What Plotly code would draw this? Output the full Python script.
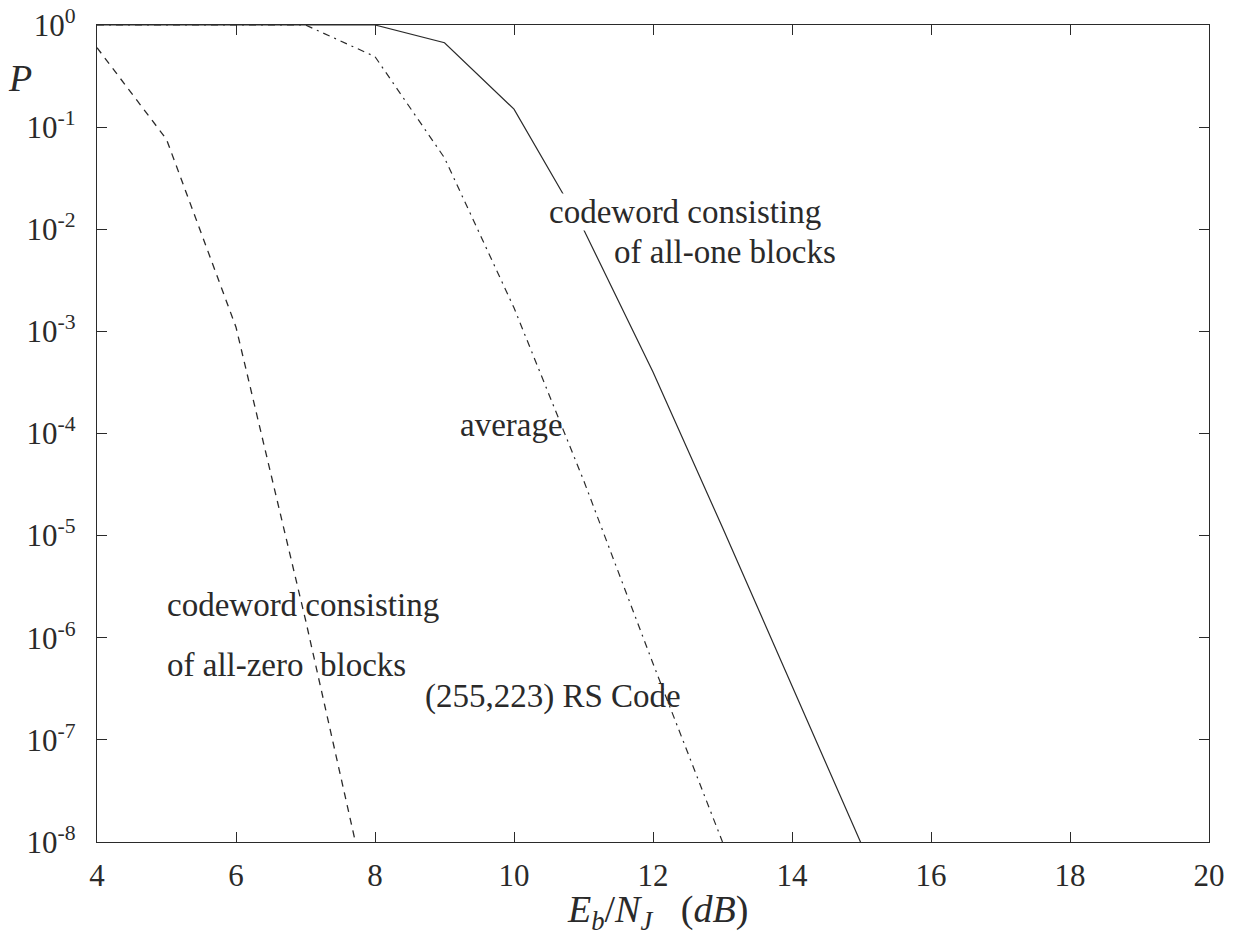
import plotly.graph_objects as go

# Eb/NJ (dB)
x_zero = [4, 5, 6, 7, 8]
p_zero = [0.60, 0.076, 1.1e-3, 1.5e-6, 1.4e-9]

x_avg = [4, 5, 6, 7, 8, 9, 10, 11, 12, 13]
p_avg = [1.0, 1.0, 1.0, 1.0, 0.49, 0.050, 1.7e-3, 3.5e-5, 5.6e-7, 1.0e-8]

x_one = [4, 5, 6, 7, 8, 9, 10, 11, 12, 13, 14, 15]
p_one = [1.0, 1.0, 1.0, 1.0, 1.0, 0.67, 0.15, 1.0e-2, 4.0e-4, 1.2e-5, 3.4e-7, 9.5e-9]

x_ticks = [4, 6, 8, 10, 12, 14, 16, 18, 20]
y_ticks = [1, 1e-1, 1e-2, 1e-3, 1e-4, 1e-5, 1e-6, 1e-7, 1e-8]
y_ticktext = ["10<sup>0</sup>", "10<sup>-1</sup>", "10<sup>-2</sup>", "10<sup>-3</sup>",
              "10<sup>-4</sup>", "10<sup>-5</sup>", "10<sup>-6</sup>", "10<sup>-7</sup>",
              "10<sup>-8</sup>"]

FONT = "Liberation Serif"
INK = "#2a2a2a"

fig = go.Figure()
fig.add_trace(go.Scatter(x=x_zero, y=p_zero, mode="lines",
                         line=dict(color=INK, width=1.3, dash="7px,6px"),
                         name="all-zero"))
fig.add_trace(go.Scatter(x=x_avg, y=p_avg, mode="lines",
                         line=dict(color=INK, width=1.2, dash="7px,5px,2px,5px"),
                         name="average"))
fig.add_trace(go.Scatter(x=x_one, y=p_one, mode="lines",
                         line=dict(color=INK, width=1.2),
                         name="all-one"))

axis_common = dict(showgrid=False, zeroline=False, showline=True, linecolor=INK,
                   linewidth=1.3, mirror="ticks", ticks="inside", ticklen=10,
                   tickcolor=INK, tickwidth=1.1, automargin=False,
                   tickfont=dict(family=FONT, size=31, color=INK))

fig.update_xaxes(range=[4, 20], tickvals=x_ticks, ticktext=[str(v) for v in x_ticks],
                 ticklabelstandoff=6, **axis_common)
fig.update_yaxes(type="log", range=[-8, 0], tickvals=y_ticks, ticktext=y_ticktext,
                 ticklabelstandoff=14, **axis_common)

ann_font = dict(family=FONT, size=33, color=INK)
annotations = [
    dict(x=10.49, y=-1.83, text="codeword consisting", xanchor="left", yanchor="middle",
         bgcolor="white", borderpad=0),
    dict(x=11.41, y=-2.22, text="of all-one blocks", xanchor="left", yanchor="middle"),
    dict(x=9.19, y=-3.92, text="average", xanchor="left", yanchor="middle"),
    dict(x=4.98, y=-5.68, text="codeword consisting", xanchor="left", yanchor="middle"),
    dict(x=4.98, y=-6.27, text="of all-zero  blocks", xanchor="left", yanchor="middle"),
    dict(x=8.69, y=-6.58, text="(255,223) RS Code", xanchor="left", yanchor="middle"),
]
for a in annotations:
    fig.add_annotation(xref="x", yref="y", showarrow=False, font=ann_font, **a)

fig.add_annotation(xref="paper", yref="paper", x=-0.069, y=0.935, text="<i>P</i>",
                   showarrow=False, font=dict(family=FONT, size=38, color=INK),
                   xanchor="center", yanchor="middle")
fig.add_annotation(xref="paper", yref="paper", x=0.504, y=-0.086,
                   text="<i>E</i><sub><i>b</i></sub>/<i>N</i><sub><i>J</i></sub>\u00a0\u00a0\u00a0(<i>dB</i>)",
                   showarrow=False, font=dict(family=FONT, size=38, color=INK),
                   xanchor="center", yanchor="middle")

fig.update_layout(width=1234, height=942, showlegend=False,
                  paper_bgcolor="white", plot_bgcolor="white",
                  margin=dict(l=97, r=25, t=25, b=100, autoexpand=False))

fig.write_html("out.html", config={"displayModeBar": False},
               post_script="document.body.style.margin='0px';")
